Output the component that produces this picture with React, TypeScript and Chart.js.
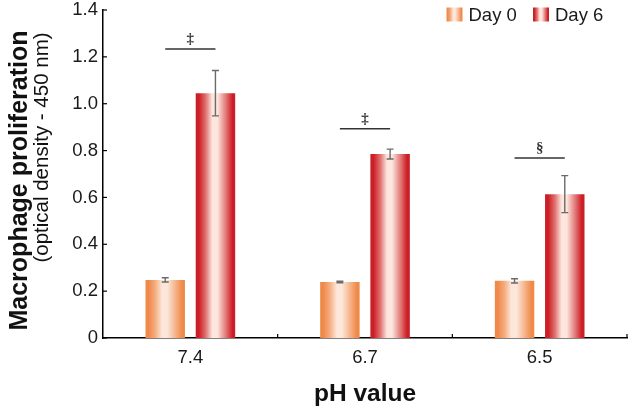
import { useEffect, useRef } from 'react';
import { Chart, registerables } from 'chart.js';

Chart.register(...registerables);

const categories = ['7.4', '6.7', '6.5'];
const seriesLabels = ['Day 0', 'Day 6'];
const day0Values = [0.248, 0.239, 0.244];
const day0Errors = [0.009, 0.003, 0.009];
const day6Values = [1.045, 0.785, 0.614];
const day6Errors = [0.097, 0.021, 0.079];
const sigLevels = [1.234, 0.893, 0.768];
const sigSymbols = ['\u2021', '\u2021', '\u00a7'];
const yTitle = 'Macrophage proliferation';
const ySubtitle = '(optical density - 450 nm)';
const xTitle = 'pH value';

const FONT = "'Liberation Sans', Arial, sans-serif";

const palettes = [
  { edge: '#EF8A4A', mid: '#F5AE82', light: '#FCE7DA' },
  { edge: '#CC1E26', mid: '#E0706F', light: '#FCE6DE' },
];

function makeGradient(ctx: CanvasRenderingContext2D, x0: number, x1: number, p: { edge: string; mid: string; light: string }) {
  const g = ctx.createLinearGradient(x0, 0, x1, 0);
  g.addColorStop(0, p.edge);
  g.addColorStop(0.08, p.edge);
  g.addColorStop(0.25, p.mid);
  g.addColorStop(0.42, p.light);
  g.addColorStop(0.55, p.light);
  g.addColorStop(0.78, p.mid);
  g.addColorStop(0.93, p.edge);
  g.addColorStop(1, p.edge);
  return g;
}

const gradientPlugin = {
  id: 'gradientBars',
  beforeDatasetsDraw(chart: any) {
    const ctx = chart.ctx;
    chart.data.datasets.forEach((_: any, di: number) => {
      const meta = chart.getDatasetMeta(di);
      meta.data.forEach((el: any) => {
        const { x, width } = el.getProps(['x', 'width'], true);
        const g = makeGradient(ctx, x - width / 2, x + width / 2, palettes[di]);
        el.options = Object.assign({}, el.options, { backgroundColor: g });
      });
    });
  },
};

const errorPlugin = {
  id: 'errorBars',
  afterDatasetsDraw(chart: any) {
    const ctx = chart.ctx;
    const ys = chart.scales.y;
    const allVals = [day0Values, day6Values];
    const allErrs = [day0Errors, day6Errors];
    ctx.save();
    ctx.strokeStyle = '#6b6b6b';
    ctx.lineWidth = 1.4;
    chart.data.datasets.forEach((_: any, di: number) => {
      const meta = chart.getDatasetMeta(di);
      meta.data.forEach((el: any, i: number) => {
        const v = allVals[di][i];
        const e = allErrs[di][i];
        const yt = ys.getPixelForValue(v + e);
        const yb = ys.getPixelForValue(v - e);
        const x = el.x;
        ctx.beginPath();
        ctx.moveTo(x, yt);
        ctx.lineTo(x, yb);
        ctx.moveTo(x - 3.5, yt);
        ctx.lineTo(x + 3.5, yt);
        ctx.moveTo(x - 3.5, yb);
        ctx.lineTo(x + 3.5, yb);
        ctx.stroke();
      });
    });
    // significance brackets
    const m0 = chart.getDatasetMeta(0);
    const m1 = chart.getDatasetMeta(1);
    ctx.strokeStyle = '#333';
    ctx.fillStyle = '#333';
    ctx.lineWidth = 1.5;
    sigLevels.forEach((lv, i) => {
      const y = ys.getPixelForValue(lv);
      const xa = m0.data[i].x;
      const xb = m1.data[i].x;
      ctx.beginPath();
      ctx.moveTo(xa, y);
      ctx.lineTo(xb, y);
      ctx.stroke();
      ctx.font = `bold 15px 'Liberation Serif', 'Times New Roman', serif`;
      ctx.textAlign = 'center';
      ctx.textBaseline = 'alphabetic';
      ctx.fillText(sigSymbols[i], (xa + xb) / 2, y - 6);
    });
    ctx.restore();
  },
};

const decorPlugin = {
  id: 'decor',
  afterDraw(chart: any) {
    const ctx = chart.ctx;
    const ca = chart.chartArea;
    const ys = chart.scales.y;
    ctx.save();
    // inward ticks
    ctx.strokeStyle = '#000';
    ctx.lineWidth = 1.2;
    ys.ticks.forEach((t: any) => {
      const y = ys.getPixelForValue(t.value);
      ctx.beginPath();
      ctx.moveTo(ca.left, y);
      ctx.lineTo(ca.left + 4, y);
      ctx.stroke();
    });
    const n = categories.length;
    const w = (ca.right - ca.left) / n;
    for (let k = 1; k <= n; k++) {
      const x = ca.left + k * w;
      ctx.beginPath();
      ctx.moveTo(x, ca.bottom);
      ctx.lineTo(x, ca.bottom - 4);
      ctx.stroke();
    }
    // titles
    ctx.fillStyle = '#111';
    ctx.textAlign = 'center';
    ctx.textBaseline = 'alphabetic';
    ctx.save();
    ctx.translate(27, 180.5);
    ctx.rotate(-Math.PI / 2);
    ctx.font = `bold 25px ${FONT}`;
    ctx.fillText(yTitle, 0, 0);
    ctx.restore();
    ctx.save();
    ctx.translate(48, 147.5);
    ctx.rotate(-Math.PI / 2);
    ctx.font = `20.5px ${FONT}`;
    ctx.fillText(ySubtitle, 0, 0);
    ctx.restore();
    ctx.font = `bold 24.5px ${FONT}`;
    ctx.fillText(xTitle, (ca.left + ca.right) / 2, 401);
    // legend
    const legendX = [446.5, 533];
    ctx.font = `18.5px ${FONT}`;
    ctx.textAlign = 'left';
    seriesLabels.forEach((lab, i) => {
      const bx = legendX[i];
      ctx.fillStyle = makeGradient(ctx, bx, bx + 16, palettes[i]);
      ctx.fillRect(bx, 7.5, 16, 14);
      ctx.fillStyle = '#1a1a1a';
      ctx.fillText(lab, bx + 22, 21);
    });
    ctx.restore();
  },
};

export default function App() {
  const ref = useRef<HTMLCanvasElement>(null);
  useEffect(() => {
    document.body.style.margin = '0';
    const canvas = ref.current!;
    const chart = new Chart(canvas, {
      type: 'bar',
      data: {
        labels: categories,
        datasets: [
          { label: seriesLabels[0], data: day0Values, backgroundColor: palettes[0].edge, borderWidth: 0 },
          { label: seriesLabels[1], data: day6Values, backgroundColor: palettes[1].edge, borderWidth: 0 },
        ],
      },
      options: {
        responsive: false,
        animation: false,
        events: [],
        layout: { padding: { left: 0, right: 3, top: 10, bottom: 0 } },
        datasets: { bar: { categoryPercentage: 0.575, barPercentage: 0.786 } },
        plugins: { legend: { display: false }, tooltip: { enabled: false } },
        scales: {
          x: {
            grid: { display: false, drawTicks: false },
            border: { display: true, color: '#000', width: 1.5 },
            ticks: { color: '#1a1a1a', font: { family: FONT, size: 18.5 }, padding: 9 },
            afterFit: (s: any) => {
              s.height = 69;
              s.paddingLeft = 0;
              s.paddingRight = 0;
            },
          },
          y: {
            min: 0,
            max: 1.4,
            grid: { display: false, drawTicks: false },
            border: { display: true, color: '#000', width: 1.5 },
            ticks: {
              stepSize: 0.2,
              color: '#1a1a1a',
              font: { family: FONT, size: 18.5 },
              padding: 5,
              callback: (v: any) => (Number(v) === 0 ? '0' : Number(v).toFixed(1)),
            },
            afterFit: (s: any) => {
              s.width = 103;
              s.paddingTop = 0;
              s.paddingBottom = 0;
            },
          },
        },
      },
      plugins: [gradientPlugin, errorPlugin, decorPlugin],
    });
    return () => chart.destroy();
  }, []);
  return <canvas ref={ref} width={630} height={407} style={{ display: 'block' }} />;
}
